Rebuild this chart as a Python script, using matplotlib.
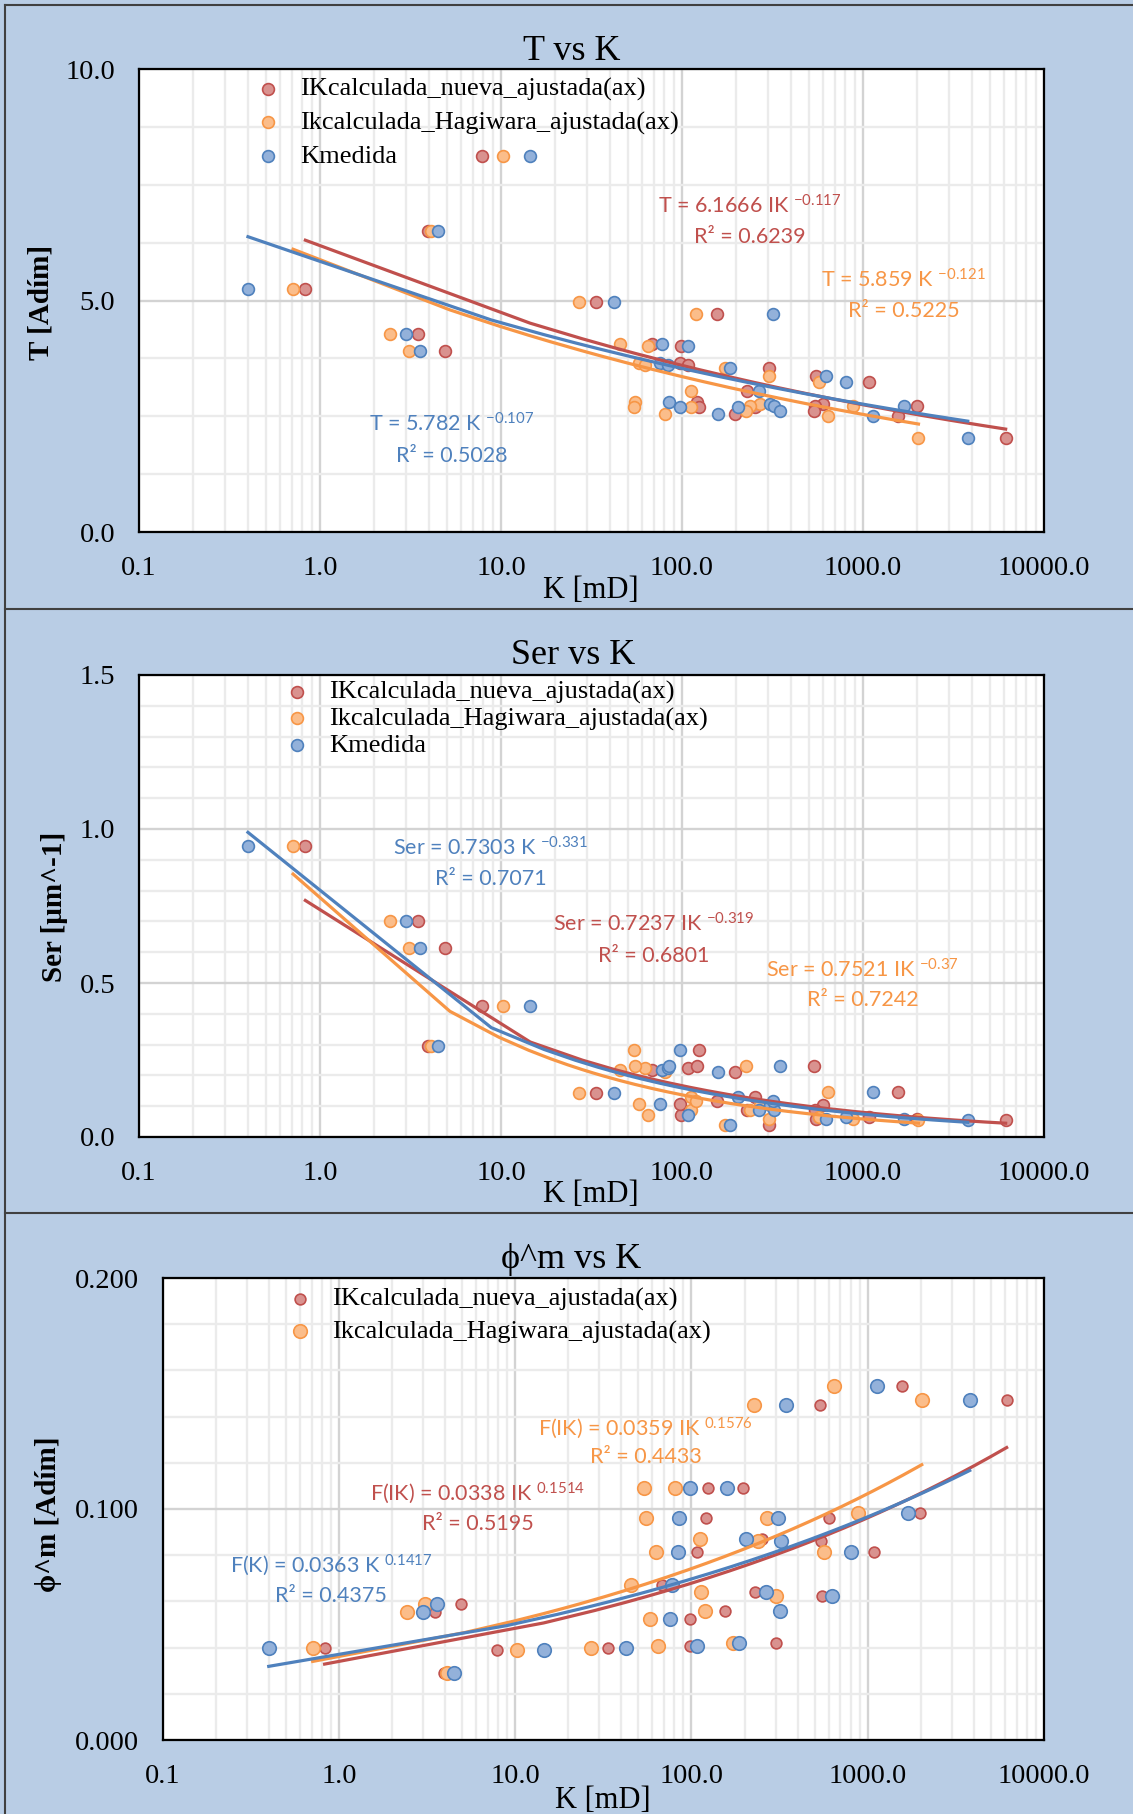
import numpy as np
import matplotlib
matplotlib.use('Agg')
import matplotlib.pyplot as plt
from matplotlib.lines import Line2D
from matplotlib.ticker import (FixedLocator, FixedFormatter, MultipleLocator,
                               LogLocator, NullFormatter)

W, H = 1133, 1814

# one entry per core sample (25 samples)
k_medida = [0.40, 4.51, 3.00, 3.58, 14.5, 42.3, 107.6, 185, 75.7, 77.8, 83.5, 806, 84.8,
            308, 97.8, 158.5, 205, 323, 346, 266, 625, 320, 1132, 1685, 3790]
ik_hagiwara = [0.71, 4.12, 2.43, 3.10, 10.3, 27.1, 64.5, 172, 58.0, 45.2, 62.8, 568, 55.2,
               270, 54.0, 80.4, 111.5, 239, 226, 112.8, 303, 118.8, 641, 878, 2025]
ik_nueva = [0.83, 3.95, 3.50, 4.93, 7.85, 33.6, 98.5, 301, 98.0, 68.0, 107.8, 1080, 121.5,
            605, 123.5, 196, 252, 540, 535, 228, 551, 156, 1570, 1990, 6140]

t_adim = [5.25, 6.51, 4.28, 3.90, 8.13, 4.97, 4.02, 3.55, 3.65, 4.07, 3.61, 3.25, 2.81,
          2.77, 2.70, 2.54, 2.71, 2.72, 2.62, 3.05, 3.37, 4.71, 2.51, 2.73, 2.02]
ser = [0.945, 0.294, 0.700, 0.613, 0.426, 0.143, 0.073, 0.040, 0.106, 0.218, 0.223, 0.065,
       0.231, 0.105, 0.282, 0.212, 0.130, 0.089, 0.232, 0.088, 0.060, 0.117, 0.147, 0.059, 0.055]
phi_m = [0.0398, 0.0290, 0.0552, 0.0590, 0.0390, 0.0400, 0.0405, 0.0420, 0.0525, 0.0672,
         0.0813, 0.0813, 0.0961, 0.0961, 0.1090, 0.1090, 0.0869, 0.0862, 0.1449, 0.0640,
         0.0625, 0.0560, 0.1533, 0.0982, 0.1471]

# power trendlines (coefficient, exponent, R2) as printed on the chart
t_fit_nueva, t_fit_hag, t_fit_med = (6.1666, -0.117, '0.6239'), (5.859, -0.121, '0.5225'), (5.782, -0.107, '0.5028')
ser_fit_nueva, ser_fit_hag, ser_fit_med = (0.7237, -0.319, '0.6801'), (0.7521, -0.37, '0.7242'), (0.7303, -0.331, '0.7071')
phi_fit_nueva, phi_fit_hag, phi_fit_med = (0.0338, 0.1514, '0.5195'), (0.0359, 0.1576, '0.4433'), (0.0363, 0.1417, '0.4375')

xtick_vals = [0.1, 1, 10, 100, 1000, 10000]
xtick_labels = ['0.1', '1.0', '10.0', '100.0', '1000.0', '10000.0']
legend_labels = ['IKcalculada_nueva_ajustada(ax)', 'Ikcalculada_Hagiwara_ajustada(ax)', 'Kmedida']

plt.rcParams['font.family'] = ['Liberation Serif', 'DejaVu Serif']
plt.rcParams['mathtext.fontset'] = 'custom'
plt.rcParams['mathtext.rm'] = 'Lato'
plt.rcParams['mathtext.it'] = 'Lato:italic'
plt.rcParams['mathtext.bf'] = 'Lato:bold'

BG = '#B9CDE5'
RED, RED_FILL = '#C0504D', '#D9928F'
ORANGE, ORANGE_FILL = '#F79646', '#FBBD8A'
BLUE, BLUE_FILL = '#4F81BD', '#93B1DA'

fig = plt.figure(figsize=(W / 100, H / 100), dpi=100, facecolor=BG)


def fx(x):
    return x / W


def fy(y):
    return 1 - y / H


def make_axes(left, top, right, bottom):
    return fig.add_axes([fx(left), fy(bottom), (right - left) / W, (bottom - top) / H])


def style_axes(ax, ymax, yticks, ylabels, yminor):
    ax.set_xscale('log')
    ax.set_xlim(0.1, 10000)
    ax.set_ylim(0, ymax)
    ax.xaxis.set_major_locator(FixedLocator(xtick_vals))
    ax.xaxis.set_major_formatter(FixedFormatter(xtick_labels))
    ax.xaxis.set_minor_locator(LogLocator(base=10, subs=np.arange(2, 10), numticks=60))
    ax.xaxis.set_minor_formatter(NullFormatter())
    ax.yaxis.set_major_locator(FixedLocator(yticks))
    ax.yaxis.set_major_formatter(FixedFormatter(ylabels))
    ax.yaxis.set_minor_locator(MultipleLocator(yminor))
    ax.tick_params(which='both', length=0)
    ax.tick_params(axis='x', labelsize=20.5, pad=17)
    ax.tick_params(axis='y', labelsize=20.5, pad=17)
    ax.grid(which='minor', color='#EBEBEB', lw=1.7)
    ax.grid(which='major', color='#D3D3D3', lw=1.7)
    ax.set_axisbelow(True)
    for s in ax.spines.values():
        s.set_linewidth(1.6)
        s.set_color('black')


def trend(ax, k, fit, color):
    k = np.asarray(k)
    xs = np.linspace(k.min(), k.max(), 450)
    ax.plot(xs, fit[0] * xs ** fit[1], color=color, lw=2.3, zorder=4)


def eq_label(x, y_eq, y_r2, prefix, fit, color):
    expo = ('%g' % fit[1])
    fig.text(fx(x), fy(y_eq), prefix + r' ${}^{%s}$' % expo, color=color,
             fontsize=15.5, family='Lato', ha='center', va='baseline')
    fig.text(fx(x), fy(y_r2), 'R² = ' + fit[2], color=color,
             fontsize=15.5, family='Lato', ha='center', va='baseline')


def panel(ax, yvals, fits, sizes):
    pts = []
    for k, fill, edge, s in zip([ik_nueva, ik_hagiwara, k_medida],
                                [RED_FILL, ORANGE_FILL, BLUE_FILL],
                                [RED, ORANGE, BLUE], sizes):
        pts.append(ax.scatter(k, yvals, s=s, c=fill, edgecolors=edge, linewidths=1.2, zorder=3))
    for k, fit, col in zip([ik_nueva, ik_hagiwara, k_medida], fits, [RED, ORANGE, BLUE]):
        trend(ax, k, fit, col)
    return pts


def add_legend(ax, handles, labels, left, top, spacing):
    ax.legend(handles, labels, loc='upper left', bbox_to_anchor=(fx(left), fy(top)),
              bbox_transform=fig.transFigure, frameon=False, borderpad=0, borderaxespad=0,
              handlelength=0.8, handletextpad=0.8, labelspacing=spacing, fontsize=19,
              scatterpoints=1)


# ---------- panel 1: T vs K
ax1 = make_axes(139, 69, 1044, 532)
style_axes(ax1, 10, [0, 5, 10], ['0.0', '5.0', '10.0'], 1.25)
h1 = panel(ax1, t_adim, [t_fit_nueva, t_fit_hag, t_fit_med], [72, 72, 72])
add_legend(ax1, h1, legend_labels, 257.5, 77, 0.37)
eq_label(749.5, 213, 243, 'T = 6.1666 IK', t_fit_nueva, RED)
eq_label(903.5, 288, 317, 'T = 5.859 K', t_fit_hag, ORANGE)
eq_label(452, 432, 462, 'T = 5.782 K', t_fit_med, BLUE)
fig.text(fx(572), fy(51), 'T vs K', ha='center', va='center', fontsize=26)
fig.text(fx(591), fy(590), 'K [mD]', ha='center', va='center', fontsize=22)
fig.text(fx(41), fy(302), 'T [Adím]', rotation=90, ha='center', va='center',
         fontsize=21, fontweight='bold')

# ---------- panel 2: Ser vs K
ax2 = make_axes(139, 675, 1044, 1137)
style_axes(ax2, 1.5, [0, 0.5, 1.0, 1.5], ['0.0', '0.5', '1.0', '1.5'], 0.1)
h2 = panel(ax2, ser, [ser_fit_nueva, ser_fit_hag, ser_fit_med], [72, 72, 72])
add_legend(ax2, h2, legend_labels, 286.5, 680, 0.11)
eq_label(490.5, 855, 885, 'Ser = 0.7303 K', ser_fit_med, BLUE)
eq_label(653.5, 931.5, 961.5, 'Ser = 0.7237 IK', ser_fit_nueva, RED)
eq_label(862.5, 977, 1006.5, 'Ser = 0.7521 IK', ser_fit_hag, ORANGE)
fig.text(fx(573), fy(656), 'Ser vs K', ha='center', va='center', fontsize=26)
fig.text(fx(591), fy(1195), 'K [mD]', ha='center', va='center', fontsize=22)
fig.text(fx(55), fy(907), 'Ser [μm^-1]', rotation=90, ha='center', va='center',
         fontsize=21, fontweight='bold')

# ---------- panel 3: phi^m vs K
ax3 = make_axes(162.6, 1278, 1044, 1740)
style_axes(ax3, 0.2, [0, 0.1, 0.2], ['0.000', '0.100', '0.200'], 0.02)
h3 = panel(ax3, phi_m, [phi_fit_nueva, phi_fit_hag, phi_fit_med], [60, 95, 95])
add_legend(ax3, h3[:2], legend_labels[:2], 289.5, 1287.5, 0.32)
eq_label(645.5, 1435, 1463, 'F(IK) = 0.0359 IK', phi_fit_hag, ORANGE)
eq_label(477.5, 1500.5, 1530, 'F(IK) = 0.0338 IK', phi_fit_nueva, RED)
eq_label(331, 1572.5, 1602.5, 'F(K) = 0.0363 K', phi_fit_med, BLUE)
fig.text(fx(571), fy(1259), 'ϕ^m vs K', ha='center', va='center', fontsize=26)
fig.text(fx(603), fy(1800), 'K [mD]', ha='center', va='center', fontsize=22)
fig.text(fx(49), fy(1514), 'ϕ^m [Adím]', rotation=90, ha='center', va='center',
         fontsize=21, fontweight='bold')

# panel borders
for yb in [5, 609, 1213]:
    fig.add_artist(Line2D([fx(5), 1], [fy(yb), fy(yb)], transform=fig.transFigure,
                          color='#404040', lw=1.5))
fig.add_artist(Line2D([fx(5), fx(5)], [fy(5), 0], transform=fig.transFigure,
                      color='#404040', lw=1.5))

fig.savefig('out.png', dpi=100, facecolor=BG)
